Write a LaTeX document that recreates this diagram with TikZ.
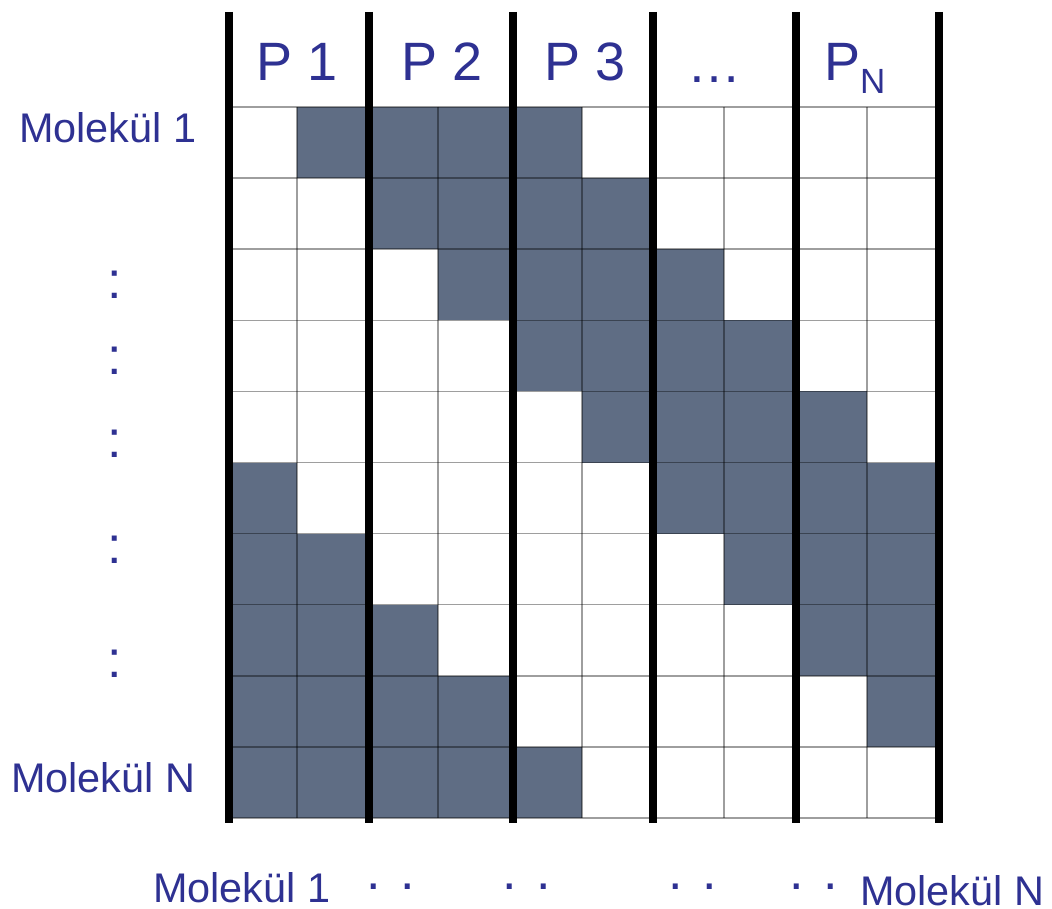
\documentclass[tikz,border=0pt]{standalone}
\usepackage{fontspec}
\setmainfont{Liberation Sans}
\definecolor{txtblue}{HTML}{2E3192}
\definecolor{cellfill}{HTML}{5F6D84}
\begin{document}
\begin{tikzpicture}[x=1pt,y=-1pt,
  lbl/.style={text=txtblue,inner sep=0pt,font=\fontsize{41.4}{42}\selectfont},
  plbl/.style={text=txtblue,inner sep=0pt,font=\fontsize{54}{54}\selectfont},
  dotlbl/.style={text=txtblue,inner sep=0pt,font=\fontsize{52}{52}\selectfont},
  cell/.style={fill=cellfill,draw=none},
  gridline/.style={draw=black,draw opacity=0.38,line width=1.4pt},
  sepline/.style={draw=black,line width=8pt}]
\useasboundingbox[fill=white] (0,0) rectangle (1052,909);
\def\colx{{229,297,369,438,513,582,653,724,796,867,939}}
\def\rowh{71.1}
% filled cells
\foreach \r/\c in {0/1,0/2,0/3,0/4,
                   1/2,1/3,1/4,1/5,
                   2/3,2/4,2/5,2/6,
                   3/4,3/5,3/6,3/7,
                   4/5,4/6,4/7,4/8,
                   5/0,5/6,5/7,5/8,5/9,
                   6/0,6/1,6/7,6/8,6/9,
                   7/0,7/1,7/2,7/8,7/9,
                   8/0,8/1,8/2,8/3,8/9,
                   9/0,9/1,9/2,9/3,9/4}{
  \pgfmathsetmacro\xa{\colx[\c]}
  \pgfmathsetmacro\xb{\colx[\c+1]}
  \pgfmathsetmacro\ya{107+\rowh*\r}
  \pgfmathsetmacro\yb{107+\rowh*(\r+1)}
  \fill[cell] (\xa,\ya) rectangle (\xb,\yb);
}
% thin grid
\foreach \i in {0,...,10}{
  \pgfmathsetmacro\xx{\colx[\i]}
  \draw[gridline] (\xx,107) -- (\xx,818);
  \pgfmathsetmacro\yy{107+\rowh*\i}
  \draw[gridline] (229,\yy) -- (939,\yy);
}
% thick separators
\foreach \xx in {229,369,513,653,796,939}{
  \draw[sepline] (\xx,12) -- (\xx,823);
}
% column headers
\node[plbl,anchor=base] (p1) at (297,81) {P 1};
\node[plbl,anchor=base] (p2) at (442.5,81) {P 2};
\node[plbl,anchor=base] (p3) at (585.5,81) {P 3};
\node[plbl,anchor=base] (pdots) at (714.5,83) {…};
\node[plbl,anchor=base west] (pn) at (824,81) {P\raisebox{-13pt}{\fontsize{35}{35}\selectfont N}};
% row labels
\node[lbl,anchor=base west] (m1) at (19,143) {Molekül 1};
\node[lbl,anchor=base west] (mn) at (11,792) {Molekül N};
\node[dotlbl,anchor=base] (c1) at (114.5,299) {:};
\node[dotlbl,anchor=base] (c2) at (114.5,374) {:};
\node[dotlbl,anchor=base] (c3) at (114.5,457) {:};
\node[dotlbl,anchor=base] (c4) at (114.5,563) {:};
\node[dotlbl,anchor=base] (c5) at (114.5,677) {:};
% bottom labels
\node[lbl,anchor=base west] (b1) at (153,902) {Molekül 1};
\node[lbl,anchor=base west] (bn) at (860,905) {Molekül N};
\node[dotlbl,anchor=base] (d1) at (390.5,889) {. .};
\node[dotlbl,anchor=base] (d2) at (526.5,889) {. .};
\node[dotlbl,anchor=base] (d3) at (692.5,889) {. .};
\node[dotlbl,anchor=base] (d4) at (813.5,889) {. .};
\end{tikzpicture}
\end{document}
